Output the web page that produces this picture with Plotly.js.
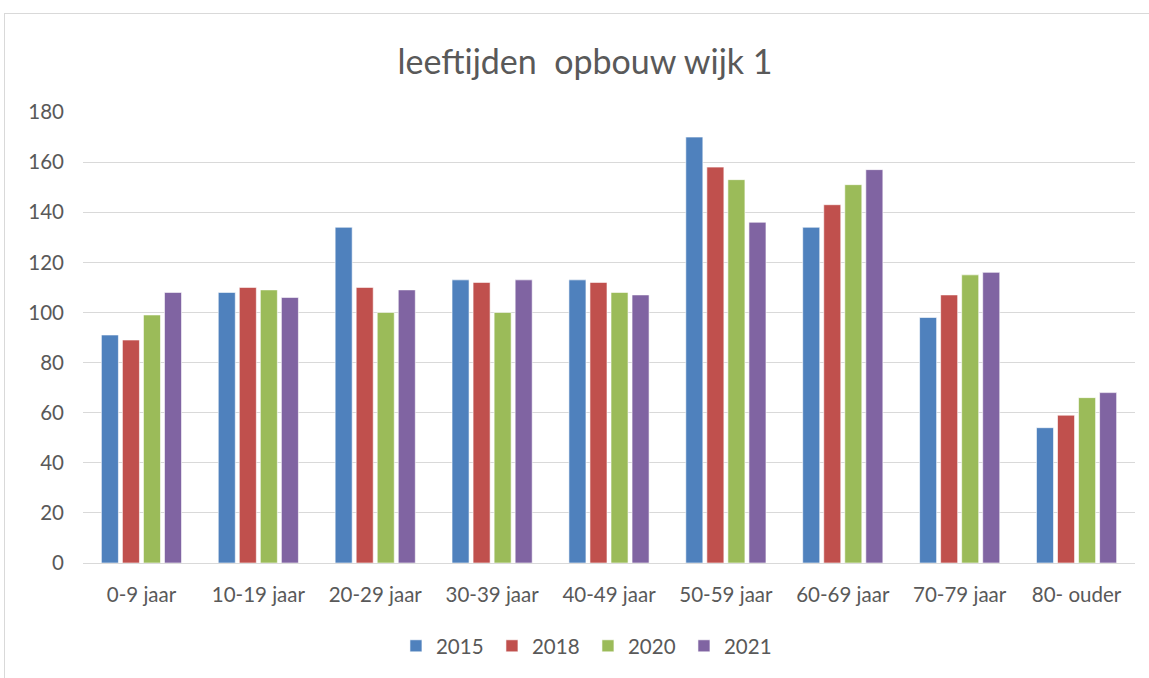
<!DOCTYPE html>
<html>
<head>
<meta charset="utf-8">
<script src="https://cdn.plot.ly/plotly-3.0.1.min.js"></script>
<style>
  html, body { margin: 0; padding: 0; background: #fff; overflow: hidden; }
  #frame { position: absolute; left: 4px; top: 13px; width: 1200px; height: 700px; border-left: 1px solid #d9d9d9; border-top: 1px solid #d9d9d9; }
  #chart { position: absolute; left: 0; top: 0; width: 1149px; height: 678px; }
</style>
</head>
<body>
<div id="frame"></div>
<div id="chart"></div>
<script>
const categories = ["0-9 jaar", "10-19 jaar", "20-29 jaar", "30-39 jaar", "40-49 jaar", "50-59 jaar", "60-69 jaar", "70-79 jaar", "80- ouder"];
const v2015 = [91, 108, 134, 113, 113, 170, 134, 98, 54];
const v2018 = [89, 110, 110, 112, 112, 158, 143, 107, 59];
const v2020 = [99, 109, 100, 100, 108, 153, 151, 115, 66];
const v2021 = [108, 106, 109, 113, 107, 136, 157, 116, 68];
const seriesNames = ["2015", "2018", "2020", "2021"];
const seriesColors = ["#4F81BD", "#C0504D", "#9BBB59", "#8064A2"];
const yTicks = [0, 20, 40, 60, 80, 100, 120, 140, 160, 180];

const allValues = [v2015, v2018, v2020, v2021];
const traces = allValues.map((vals, i) => ({
  type: 'bar',
  name: seriesNames[i],
  x: categories,
  y: vals,
  marker: { color: seriesColors[i], line: { color: 'rgba(255,255,255,0.6)', width: 1 } },
  hoverinfo: 'x+y+name'
}));

const fontFam = 'Lato, "Open Sans", "Liberation Sans", sans-serif';
const layout = {
  width: 1149, height: 678,
  paper_bgcolor: 'rgba(0,0,0,0)', plot_bgcolor: 'rgba(0,0,0,0)',
  margin: { l: 83, r: 14, t: 112, b: 115 },
  title: { text: 'leeftijden\u00a0\u00a0opbouw wijk 1', x: 585 / 1149, xanchor: 'center', y: 1 - 62 / 678, yanchor: 'middle',
           font: { family: fontFam, size: 34, color: '#595959' } },
  barmode: 'group', bargap: 0.28, bargroupgap: 0.19,
  xaxis: { showgrid: false, showline: true, linecolor: '#d9d9d9', linewidth: 1, ticks: '',
           tickfont: { family: fontFam, size: 20.5, color: '#595959' }, ticklabelstandoff: 13, zeroline: false },
  yaxis: { range: [0, 180], tickvals: yTicks, showgrid: true, gridcolor: '#d9d9d9', gridwidth: 1,
           zeroline: false, showline: false, ticks: '',
           tickfont: { family: fontFam, size: 20.5, color: '#595959' }, ticklabelstandoff: 18 },
  legend: { orientation: 'h', x: 0.48, xanchor: 'center', y: -0.184, yanchor: 'middle',
            font: { family: fontFam, size: 20.5, color: '#595959' }, itemwidth: 30, traceorder: 'normal',
            entrywidth: 51, entrywidthmode: 'pixels' },
  showlegend: true
};

Plotly.newPlot('chart', traces, layout, { displayModeBar: false, staticPlot: false });
</script>
</body>
</html>
